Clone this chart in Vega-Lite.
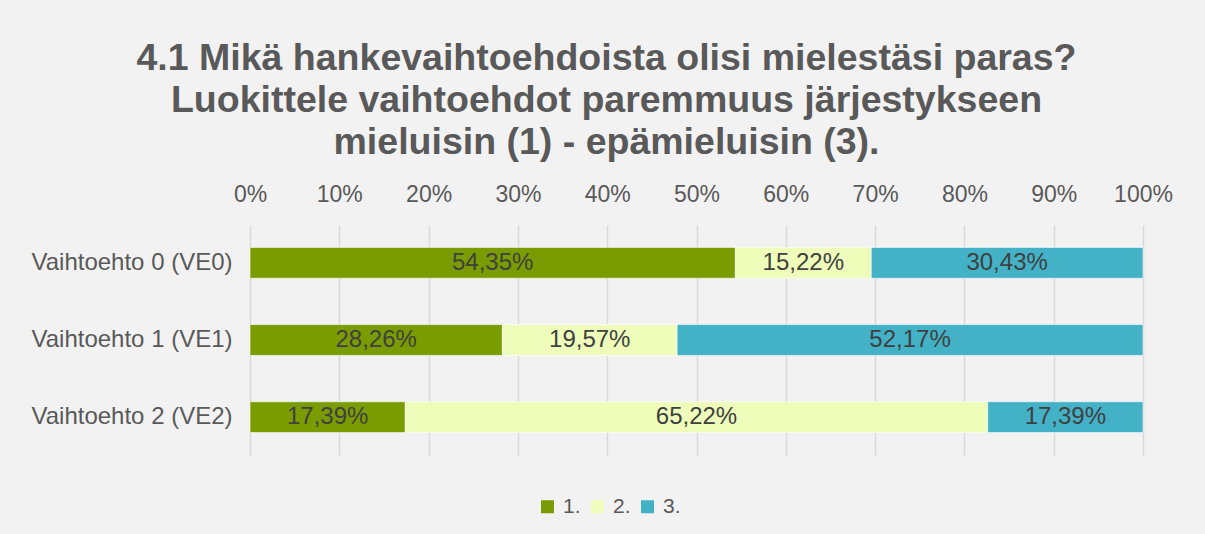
{
  "$schema": "https://vega.github.io/schema/vega-lite/v6.json",
  "autosize": {"type": "none"},
  "width": 893,
  "height": 230,
  "padding": {"left": 250, "top": 225, "right": 62, "bottom": 79},
  "background": "#f2f2f2",
  "title": {
    "text": ["4.1 Mikä hankevaihtoehdoista olisi mielestäsi paras?", "Luokittele vaihtoehdot paremmuus järjestykseen", "mieluisin (1) - epämieluisin (3)."],
    "font": "Liberation Sans",
    "fontSize": 37.5,
    "fontWeight": "bold",
    "color": "#595959",
    "lineHeight": 42,
    "anchor": "middle",
    "dx": -90,
    "offset": 22
  },
  "data": {
    "values": [
      {"option": "Vaihtoehto 0 (VE0)", "rank": "1.", "pct": 0.5435},
      {"option": "Vaihtoehto 0 (VE0)", "rank": "2.", "pct": 0.1522},
      {"option": "Vaihtoehto 0 (VE0)", "rank": "3.", "pct": 0.3043},
      {"option": "Vaihtoehto 1 (VE1)", "rank": "1.", "pct": 0.2826},
      {"option": "Vaihtoehto 1 (VE1)", "rank": "2.", "pct": 0.1957},
      {"option": "Vaihtoehto 1 (VE1)", "rank": "3.", "pct": 0.5217},
      {"option": "Vaihtoehto 2 (VE2)", "rank": "1.", "pct": 0.1739},
      {"option": "Vaihtoehto 2 (VE2)", "rank": "2.", "pct": 0.6522},
      {"option": "Vaihtoehto 2 (VE2)", "rank": "3.", "pct": 0.1739}
    ]
  },
  "transform": [
    {"stack": "pct", "groupby": ["option"], "sort": [{"field": "rank", "order": "ascending"}], "as": ["x0", "x1"]},
    {"calculate": "(datum.x0 + datum.x1) / 2", "as": "mid"}
  ],
  "encoding": {
    "y": {
      "field": "option",
      "type": "nominal",
      "title": null,
      "sort": ["Vaihtoehto 0 (VE0)", "Vaihtoehto 1 (VE1)", "Vaihtoehto 2 (VE2)"],
      "scale": {"paddingInner": 0.6, "paddingOuter": 0.29},
      "axis": {"ticks": false, "domain": false, "labelFontSize": 24, "labelFont": "Liberation Sans", "labelColor": "#595959", "labelPadding": 18, "labelLimit": 400}
    }
  },
  "layer": [
    {
      "mark": {"type": "bar", "stroke": "#ffffff", "strokeWidth": 1, "strokeOpacity": 0.6},
      "encoding": {
        "x": {
          "field": "x0",
          "type": "quantitative",
          "title": null,
          "scale": {"domain": [0, 1]},
          "axis": {"orient": "top", "format": ".0%", "values": [0, 0.1, 0.2, 0.3, 0.4, 0.5, 0.6, 0.7, 0.8, 0.9, 1], "ticks": false, "domain": false, "labelFlush": false, "labelOverlap": false, "labelFontSize": 23, "labelFont": "Liberation Sans", "labelColor": "#595959", "labelPadding": 19, "gridColor": "#d9d9d9", "gridWidth": 1.5}
        },
        "x2": {"field": "x1"},
        "color": {
          "field": "rank",
          "type": "nominal",
          "scale": {"domain": ["1.", "2.", "3."], "range": ["#7a9c00", "#eefdba", "#43b1c6"]},
          "legend": {
            "title": null,
            "orient": "none",
            "legendX": 287,
            "legendY": 271,
            "direction": "horizontal",
            "symbolType": "square",
            "symbolSize": 169,
            "symbolStrokeWidth": 0,
            "symbolOpacity": 1,
            "labelFontSize": 21,
            "labelFont": "Liberation Sans",
            "labelColor": "#595959",
            "labelOffset": 5,
            "columnPadding": 6,
            "padding": 0
          }
        }
      }
    },
    {
      "mark": {"type": "text", "font": "Liberation Sans", "fontSize": 24, "color": "#404040", "align": "center", "baseline": "middle"},
      "encoding": {
        "x": {"field": "mid", "type": "quantitative"},
        "text": {"field": "pct", "type": "quantitative", "format": ".2%"}
      }
    }
  ],
  "config": {
    "view": {"stroke": null},
    "locale": {"number": {"decimal": ",", "thousands": "\u00a0", "grouping": [3], "currency": ["", "\u00a0€"]}}
  }
}
